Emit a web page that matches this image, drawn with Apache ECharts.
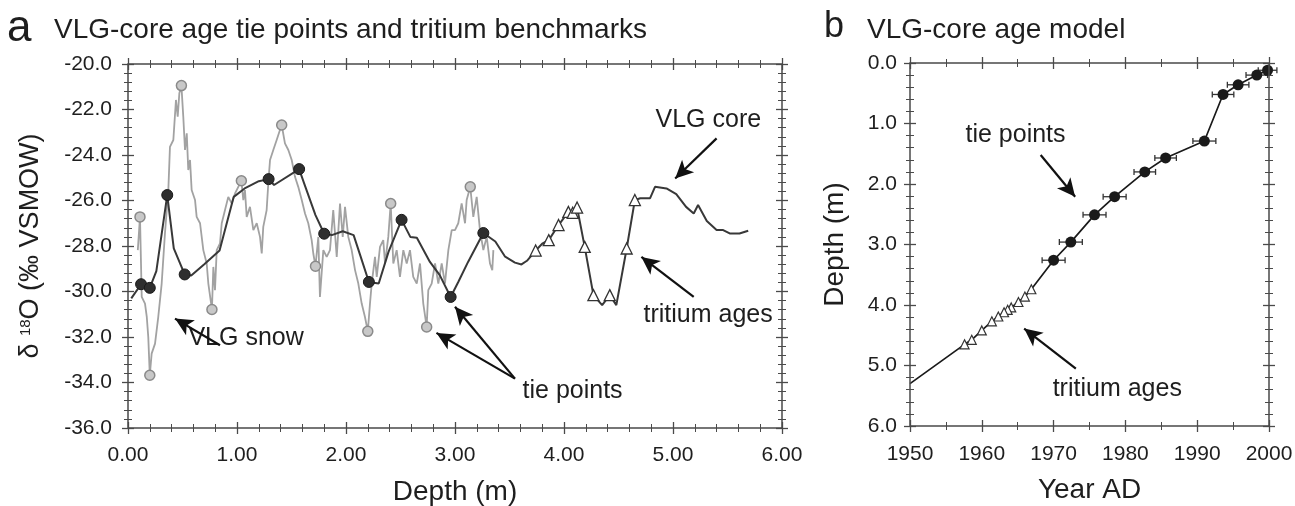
<!DOCTYPE html>
<html><head><meta charset="utf-8">
<script src="https://cdn.jsdelivr.net/npm/echarts@6/dist/echarts.min.js"></script>
<style>html,body{margin:0;padding:0;background:#fff}#c{width:1295px;height:506px}</style>
</head><body><div id="c"></div><script>
// ---------- DATA ----------
// Panel a: VLG snow delta18O (grey, noisy) vs depth (m)
const snowDepth = [0.09,0.11,0.126,0.156,0.172,0.186,0.20,0.217,0.248,0.278,0.309,0.339,0.37,0.385,0.416,0.44,0.456,0.471,0.49,0.507,0.523,0.539,0.553,0.569,0.584,0.615,0.63,0.661,0.691,0.722,0.737,0.77,0.783,0.798,0.814,0.844,0.86,0.89,0.92,0.951,0.982,1.012,1.04,1.058,1.073,1.089,1.119,1.15,1.181,1.211,1.227,1.241,1.272,1.287,1.303,1.333,1.364,1.394,1.41,1.44,1.471,1.502,1.532,1.562,1.594,1.624,1.654,1.685,1.70,1.72,1.746,1.761,1.792,1.823,1.853,1.883,1.915,1.945,1.97,1.991,2.021,2.052,2.083,2.113,2.144,2.174,2.20,2.22,2.236,2.266,2.282,2.312,2.342,2.358,2.388,2.41,2.434,2.465,2.495,2.526,2.557,2.587,2.617,2.649,2.679,2.709,2.74,2.755,2.786,2.817,2.847,2.878,2.908,2.939,2.97,3.0,3.03,3.061,3.092,3.107,3.14,3.168,3.199,3.229,3.26,3.291,3.321,3.342,3.352];
const snowD18O = [-28.18,-26.72,-30.24,-30.53,-31.1,-32.0,-33.68,-32.73,-32.29,-31.1,-29.65,-27.45,-25.54,-23.64,-23.34,-21.58,-22.32,-21.29,-20.95,-22.3,-23.78,-23.05,-24.66,-24.22,-25.54,-25.98,-26.72,-27.0,-28.18,-28.77,-29.65,-30.79,-28.92,-29.94,-28.18,-27.89,-27.0,-26.42,-25.84,-26.13,-25.69,-25.4,-25.13,-25.98,-25.54,-26.72,-26.28,-27.3,-27.0,-27.6,-28.33,-27.16,-26.42,-25.25,-24.22,-23.78,-23.34,-22.9,-22.68,-23.49,-23.78,-24.22,-24.96,-25.4,-25.98,-26.57,-27.0,-27.74,-28.33,-28.89,-27.6,-30.24,-28.18,-28.48,-28.18,-26.42,-28.48,-26.13,-27.6,-26.28,-27.6,-28.18,-29.06,-29.65,-30.53,-31.12,-31.75,-30.53,-29.65,-28.48,-29.36,-28.04,-27.74,-28.77,-27.6,-26.13,-28.77,-28.18,-29.36,-28.18,-28.77,-28.18,-29.36,-29.65,-28.77,-30.53,-31.56,-29.94,-29.65,-28.77,-29.65,-28.77,-29.65,-28.18,-27.3,-27.3,-27.0,-26.13,-27.0,-25.98,-25.4,-26.72,-25.84,-27.3,-28.18,-27.6,-28.77,-29.06,-28.18];
// VLG snow tie points (grey circles)
const snowTieDepth = [0.11,0.20,0.49,0.77,1.04,1.41,1.72,2.20,2.41,2.74,3.14];
const snowTieD18O = [-26.72,-33.68,-20.95,-30.79,-25.13,-22.68,-28.89,-31.75,-26.13,-31.56,-25.4];
// VLG core delta18O (dark line) vs depth (m)
const coreDepth = [0.03,0.12,0.20,0.26,0.36,0.42,0.52,0.58,0.70,0.84,0.97,1.07,1.20,1.29,1.34,1.57,1.62,1.72,1.80,1.87,1.97,2.07,2.13,2.21,2.30,2.39,2.51,2.59,2.65,2.77,2.86,2.96,3.03,3.12,3.26,3.37,3.46,3.55,3.61,3.66,3.74,3.80,3.86,3.95,4.04,4.08,4.12,4.19,4.27,4.35,4.42,4.48,4.575,4.65,4.70,4.79,4.835,4.94,5.03,5.12,5.19,5.23,5.31,5.40,5.46,5.52,5.61,5.69];
const coreD18O = [-30.3,-29.68,-29.84,-29.1,-25.76,-28.1,-29.25,-29.3,-28.8,-28.2,-25.84,-25.47,-25.15,-25.06,-25.32,-24.62,-25.3,-26.64,-27.46,-27.52,-27.35,-27.52,-28.4,-29.58,-29.65,-28.26,-26.85,-27.6,-27.64,-28.7,-29.28,-30.24,-29.58,-28.7,-27.43,-27.8,-28.47,-28.73,-28.81,-28.65,-28.2,-27.9,-27.74,-27.08,-26.5,-26.54,-26.31,-28.04,-30.16,-30.6,-30.16,-30.6,-28.11,-25.98,-25.9,-25.9,-25.4,-25.47,-25.72,-26.28,-26.57,-26.2,-26.9,-27.3,-27.3,-27.45,-27.45,-27.33];
// Core age tie points
const tieDepth = [0.12,0.20,0.36,0.52,1.29,1.57,1.80,2.21,2.51,2.96,3.26];
const tieD18O = [-29.68,-29.84,-25.76,-29.25,-25.06,-24.62,-27.46,-29.58,-26.85,-30.24,-27.43];
const tieYear = [1999.8,1998.3,1995.7,1993.6,1991.0,1985.6,1982.7,1978.5,1975.7,1972.4,1970.0];
const tieErr = [1.3,1.5,1.5,1.5,1.6,1.5,1.5,1.6,1.6,1.6,1.6];
// Tritium benchmarks
const triDepth = [3.74,3.86,3.95,4.04,4.08,4.12,4.19,4.27,4.42,4.575,4.65];
const triD18O = [-28.2,-27.74,-27.08,-26.5,-26.54,-26.31,-28.04,-30.16,-30.16,-28.11,-25.98];
const triYear = [1966.9,1966.0,1965.1,1964.1,1963.6,1963.1,1962.3,1961.4,1960.0,1958.6,1957.6];
// Age-model extrapolation start
const ageStartYear = 1950, ageStartDepth = 5.30;
// Annotations (data units)
const labelsA = [['VLG snow',0.55,-32.05],['tie points',3.615,-34.39],['VLG core',4.835,-22.46],['tritium ages',4.725,-31.04]];
const arrowsA = [[0.844,-32.36,0.431,-31.19],[3.55,-33.83,2.83,-31.82],[3.55,-33.83,3.00,-30.67],[5.40,-23.27,5.02,-25.03],[5.19,-30.24,4.71,-28.48]];
const labelsB = [['tie points',1957.66,1.19],['tritium ages',1969.8,5.39]];
const arrowsB = [[1968.2,1.52,1973.0,2.21],[1973.1,5.05,1965.9,4.39]];

// ---------- CHART ----------
const FONT = 'Liberation Sans, Arial, Helvetica, sans-serif';
const TXT = '#1e1e1e';
const AXC = '#4a4a4a';
const gA = {left:128, top:64, width:654, height:364};
const gB = {left:910, top:63, width:359, height:363};

function axis(gridIndex, position, rng, inside, extra) {
  return Object.assign({
    type:'value', gridIndex, position, min:rng[0], max:rng[1], interval:rng[2],
    axisLine:{show:false, onZero:false},
    axisTick:{show:true, inside, length:6, lineStyle:{color:AXC, width:1.3}},
    minorTick:{show:true, splitNumber:rng[3], length:4, lineStyle:{color:AXC, width:1}},
    axisLabel:{show:false},
    splitLine:{show:false}, minorSplitLine:{show:false}
  }, extra || {});
}
const rxA = [0,6,1,5], ryA = [-36,-20,2,5], rxB = [1950,2000,10,2], ryB = [0,6,1,5];
const lbl = (fmt, margin) => ({show:true, margin, color:TXT, fontFamily:FONT, fontSize:21, formatter:fmt});
const nameStyle = {color:TXT, fontFamily:FONT, fontSize:28};

const xAxis = [
  axis(0,'bottom',rxA,true,{axisLabel:lbl(v=>v.toFixed(2),17), name:'Depth (m)', nameLocation:'middle', nameGap:50, nameTextStyle:nameStyle}),
  axis(0,'top',rxA,true),
  axis(1,'bottom',rxA,false),
  axis(1,'top',rxA,false),
  axis(2,'bottom',rxB,true,{axisLabel:lbl(v=>String(v),18), name:'Year AD', nameLocation:'middle', nameGap:50, nameTextStyle:nameStyle}),
  axis(2,'top',rxB,true),
  axis(3,'bottom',rxB,false),
  axis(3,'top',rxB,false)
];
const yAxis = [
  axis(0,'left',ryA,true,{axisLabel:lbl(v=>v.toFixed(1),16), name:'{t|δ }{s|18}{t|O (‰ VSMOW)}', nameLocation:'middle', nameGap:84, nameRotate:90,
    nameTextStyle:{rich:{t:{color:TXT,fontFamily:FONT,fontSize:27}, s:{color:TXT,fontFamily:FONT,fontSize:15,padding:[0,0,10,0]}}}}),
  axis(0,'right',ryA,true),
  axis(1,'left',ryA,false),
  axis(1,'right',ryA,false),
  axis(2,'left',ryB,true,{inverse:true, axisLabel:lbl(v=>v.toFixed(1),13), name:'Depth (m)', nameLocation:'middle', nameGap:61, nameRotate:90, nameTextStyle:nameStyle}),
  axis(2,'right',ryB,true,{inverse:true}),
  axis(3,'left',ryB,false,{inverse:true}),
  axis(3,'right',ryB,false,{inverse:true})
];

const zip = (a,b) => a.map((v,i)=>[v,b[i]]);
const arrowML = arr => ({
  silent:true, symbol:['none','arrow'], symbolSize:[13,18], label:{show:false}, emphasis:{disabled:true},
  lineStyle:{color:'#111', width:2.2, type:'solid', opacity:1},
  data: arr.map(a => [{coord:[a[0],a[1]]},{coord:[a[2],a[3]]}])
});
const labelSeries = (xi, yi, arr) => ({
  type:'scatter', xAxisIndex:xi, yAxisIndex:yi, symbol:'circle', symbolSize:1, silent:true,
  itemStyle:{color:'rgba(0,0,0,0)', opacity:1},
  label:{show:true, position:'right', distance:0, color:TXT, fontFamily:FONT, fontSize:25, formatter:p=>p.name},
  data: arr.map(a => ({name:a[0], value:[a[1],a[2]]}))
});

// age-model line (deep to shallow, by year)
const ageLine = [[ageStartYear, ageStartDepth]]
  .concat(zip(triYear, triDepth).sort((a,b)=>a[0]-b[0]))
  .concat(zip(tieYear, tieDepth).sort((a,b)=>a[0]-b[0]));

const base = {containLabel:false, outerBoundsMode:'none'};
const frame = {show:true, borderColor:AXC, borderWidth:1.5, backgroundColor:'rgba(0,0,0,0)', z:10};
const option = {
  animation:false,
  backgroundColor:'#fff',
  grid:[Object.assign({},gA,base,frame), Object.assign({},gA,base), Object.assign({},gB,base,frame), Object.assign({},gB,base)],
  xAxis, yAxis,
  graphic:[
    {type:'text', left:7, top:7, style:{text:'a', font:'44px '+FONT, fill:TXT}},
    {type:'text', left:54, top:16, style:{text:'VLG-core age tie points and tritium benchmarks', font:'28px '+FONT, fill:TXT}},
    {type:'text', left:824, top:9, style:{text:'b', font:'36px '+FONT, fill:TXT}},
    {type:'text', left:867, top:16, style:{text:'VLG-core age model', font:'28px '+FONT, fill:TXT}}
  ],
  series:[
    {type:'line', xAxisIndex:0, yAxisIndex:0, data:zip(snowDepth,snowD18O), showSymbol:false, silent:true,
      lineStyle:{color:'#a2a2a2', width:1.8}, z:2},
    {type:'line', xAxisIndex:0, yAxisIndex:0, data:zip(coreDepth,coreD18O), showSymbol:false, silent:true,
      lineStyle:{color:'#383838', width:2}, z:3, markLine:arrowML(arrowsA)},
    {type:'scatter', xAxisIndex:0, yAxisIndex:0, data:zip(snowTieDepth,snowTieD18O), symbol:'circle', symbolSize:10, silent:true,
      itemStyle:{color:'#c8c8c8', borderColor:'#8a8a8a', borderWidth:1.5, opacity:1}, z:4},
    {type:'scatter', xAxisIndex:0, yAxisIndex:0, data:zip(tieDepth,tieD18O), symbol:'circle', symbolSize:11, silent:true,
      itemStyle:{color:'#2e2e2e', borderColor:'#1a1a1a', borderWidth:1, opacity:1}, z:5},
    {type:'scatter', xAxisIndex:0, yAxisIndex:0, data:zip(triDepth,triD18O), symbol:'triangle', symbolSize:11, silent:true,
      itemStyle:{color:'#fff', borderColor:'#333', borderWidth:1.3, opacity:1}, z:5},
    labelSeries(0,0,labelsA),
    {type:'line', xAxisIndex:4, yAxisIndex:4, data:ageLine, showSymbol:false, silent:true,
      lineStyle:{color:'#1a1a1a', width:1.7}, z:3, markLine:arrowML(arrowsB)},
    {type:'custom', xAxisIndex:4, yAxisIndex:4, silent:true, z:4,
      data: tieYear.map((y,i)=>[y, tieDepth[i], tieErr[i]]),
      renderItem:(params, api) => {
        const yr = api.value(0), dp = api.value(1), e = api.value(2);
        const lo = api.coord([yr-e, dp]), hi = api.coord([yr+e, dp]);
        const st = {stroke:'#333', lineWidth:1.3};
        return {type:'group', children:[
          {type:'line', shape:{x1:lo[0],y1:lo[1],x2:hi[0],y2:hi[1]}, style:st},
          {type:'line', shape:{x1:lo[0],y1:lo[1]-3,x2:lo[0],y2:lo[1]+3}, style:st},
          {type:'line', shape:{x1:hi[0],y1:hi[1]-3,x2:hi[0],y2:hi[1]+3}, style:st}
        ]};
      }},
    {type:'scatter', xAxisIndex:4, yAxisIndex:4, data:zip(tieYear,tieDepth), symbol:'circle', symbolSize:11, silent:true,
      itemStyle:{color:'#1a1a1a', opacity:1}, z:5},
    {type:'scatter', xAxisIndex:4, yAxisIndex:4, data:zip(triYear,triDepth), symbol:'triangle', symbolSize:9, silent:true,
      itemStyle:{color:'#fff', borderColor:'#333', borderWidth:1.2, opacity:1}, z:5},
    labelSeries(4,4,labelsB)
  ]
};
const chart = echarts.init(document.getElementById('c'), null, {renderer:'canvas'});
chart.setOption(option);
</script></body></html>
